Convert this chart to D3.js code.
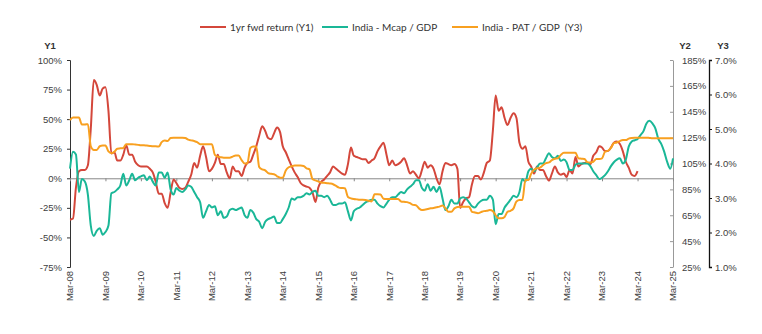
<!DOCTYPE html>
<html>
<head>
<meta charset="utf-8">
<script src="https://cdn.jsdelivr.net/npm/d3@7"></script>
<style>
  body { margin: 0; background: #fff; }
  svg { display: block; font-family: "Liberation Sans", Arial, sans-serif; }
</style>
</head>
<body>
<svg id="chart" width="762" height="334"></svg>
<script>
// monthly series, first value = Mar-2008
const startMonth = new Date(2008, 2, 1)

// 1yr fwd return (Y1), %
const fwdReturn = [
  -35, -34, -8, 6, 7, 7, 11, 42, 83, 79, 70, 76, 77, 57, 21, 22, 15, 15, 20, 28,
  20, 20, 14, 11, 10, 10, 10, 8, 5, -3, -13, -13, -21, -25, -12, -1, -4, -8, -9, -8,
  -3, 3, 13, 9, 19, 27, 18, 6, 8, 13, 20, 12, 12, 5, 0, 10, 6, 6, 2, 9,
  13, 14, 20, 27, 36, 44, 40, 34, 33, 38, 43, 39, 27, 22, 16, 10, 5, 1, -4, -6,
  -7, -8, -12, -20, -8, -3, -1, 2, 5, 10, 8, 6, 4, 3, 12, 26, 19, 18, 17, 16,
  16, 13, 15, 17, 23, 27, 30, 20, 11, 15, 11, 12, 14, 17, 11, 4, 6, 3, 0, 7,
  14, 9, 11, 8, 0, -5, 6, 13, 12, 11, 12, 8, -25, -20, -17, -16, -5, 2, 2, -1,
  5, 13, 15, 40, 70, 57, 60, 51, 45, 51, 55, 51, 30, 25, 27, 14, 10, 4, 10, 7,
  7, 2, -2, 4, 10, 5, 3, 4, 1, 7, 4, 18, 10, 12, 13, 13, 12, 19, 22, 27,
  26, 23, 23, 26, 30, 31, 29, 23, 14, 9, 3, 2, 6
]

// India - Mcap / GDP (Y2), %
const mcapGdp = [
  101, 114, 112, 83, 93, 91, 81, 57, 49, 53, 55, 50, 52, 57, 82, 83, 85, 88, 97, 88,
  92, 97, 92, 94, 95, 96, 92, 95, 91, 88, 98, 98, 94, 98, 85, 81, 86, 84, 83, 85,
  88, 87, 83, 79, 75, 63, 68, 73, 71, 72, 65, 68, 63, 64, 69, 70, 69, 70, 71, 65,
  63, 69, 67, 62, 60, 55, 60, 62, 63, 64, 59, 59, 62, 66, 71, 78, 77, 79, 79, 80,
  82, 81, 83, 84, 80, 80, 79, 80, 77, 73, 73, 74, 74, 75, 68, 61, 68, 70, 71, 73,
  75, 76, 77, 77, 74, 72, 71, 74, 77, 79, 79, 81, 83, 82, 85, 87, 89, 92, 92, 86,
  84, 89, 84, 87, 83, 87, 78, 69, 72, 77, 74, 74, 78, 79, 78, 75, 72, 71, 74, 76,
  77, 77, 80, 77, 58, 66, 66, 71, 74, 77, 80, 79, 83, 93, 91, 99, 101, 99, 102, 105,
  105, 109, 113, 110, 109, 111, 107, 108, 106, 100, 100, 104, 105, 105, 105, 105, 103, 99, 96, 93,
  94, 96, 99, 103, 106, 108, 109, 105, 108, 118, 122, 123, 124, 127, 130, 136, 138, 136, 132, 124,
  120, 114, 106, 101, 109
]

// India - PAT / GDP (Y3), %
const patGdp = [
  5.26, 5.33, 5.33, 5.33, 5.13, 5.13, 5.14, 4.5, 4.39, 4.39, 4.5, 4.52, 4.52, 4.35, 4.3, 4.34, 4.43, 4.44, 4.45, 4.56,
  4.56, 4.56, 4.55, 4.54, 4.53, 4.53, 4.52, 4.51, 4.5, 4.5, 4.49, 4.62, 4.67, 4.65, 4.74, 4.75, 4.75, 4.75, 4.75, 4.74,
  4.69, 4.67, 4.65, 4.62, 4.56, 4.56, 4.56, 4.56, 4.56, 4.25, 4.2, 4.18, 4.17, 4.17, 4.17, 4.2, 4.23, 4.23, 4.1, 4.0,
  4.0, 4.45, 4.49, 4.49, 3.9, 3.83, 3.8, 3.72, 3.7, 3.69, 3.63, 3.59, 3.59, 3.8, 3.89, 3.92, 3.94, 3.94, 3.94, 3.93,
  3.86, 3.83, 3.55, 3.51, 3.48, 3.45, 3.44, 3.43, 3.42, 3.4, 3.35, 3.3, 3.29, 3.28, 3.03, 2.99, 2.97, 2.96, 2.95, 2.95,
  2.94, 2.92, 2.9, 3.11, 3.11, 3.1, 2.98, 2.97, 2.97, 2.97, 2.97, 2.97, 2.9, 2.89, 2.88, 2.85, 2.8, 2.79, 2.7, 2.65,
  2.66, 2.68, 2.7, 2.71, 2.73, 2.75, 2.78, 2.7, 2.6, 2.6, 2.7, 2.74, 2.75, 2.75, 2.75, 2.75, 2.6, 2.58, 2.56, 2.59,
  2.62, 2.63, 2.65, 2.62, 2.5, 2.41, 2.41, 2.45, 2.6, 2.63, 2.7, 2.9, 2.94, 2.94, 3.52, 3.52, 3.7, 3.82, 3.86, 3.88,
  3.95, 4.01, 4.03, 4.1, 4.14, 4.15, 4.25, 4.31, 4.31, 4.31, 4.31, 4.31, 4.15, 4.14, 4.13, 4.04, 4.03, 4.05, 4.13, 4.13,
  4.15, 4.34, 4.37, 4.45, 4.59, 4.61, 4.65, 4.68, 4.68, 4.72, 4.74, 4.75, 4.75, 4.75, 4.75, 4.75, 4.74, 4.73, 4.73, 4.73,
  4.73, 4.73, 4.73, 4.73, 4.73
]

const y1Ticks = [-75, -50, -25, 0, 25, 50, 75, 100]
const y2Ticks = [25, 45, 65, 85, 105, 125, 145, 165, 185]
const y3Ticks = [1, 2, 3, 4, 5, 6, 7]

const seriesNames = ['1yr fwd return (Y1)', 'India - Mcap / GDP', 'India - PAT / GDP  (Y3)']
const colors = ['#d4473b', '#1ab797', '#f8a020']

const svg = d3.select('#chart')
const plotLeft = 70, plotRight = 673, plotTop = 60, plotBottom = 267
const y3x = 709

const x = d3.scaleTime()
    .domain([startMonth, new Date(2025, 2, 1)])
    .range([plotLeft, plotRight])
const y1 = d3.scaleLinear().domain([-75, 100]).range([plotBottom, plotTop])
const y2 = d3.scaleLinear().domain([25, 185]).range([plotBottom, plotTop])
const y3 = d3.scaleLinear().domain([1, 7]).range([plotBottom, plotTop])

const toRows = vals => vals.map((v, i) => ({ date: d3.timeMonth.offset(startMonth, i), value: v }))

// left axis (Y1)
const axL = svg.append('g')
    .attr('transform', `translate(${plotLeft},0)`)
    .call(d3.axisLeft(y1).tickValues(y1Ticks).tickSize(3).tickPadding(5).tickFormat(d => d + '%'))
axL.select('.domain').attr('stroke', '#333')
axL.selectAll('.tick line').attr('stroke', '#333')

// Y2 axis, ticks point inward
const axR = svg.append('g')
    .attr('transform', `translate(${plotRight},0)`)
    .call(d3.axisRight(y2).tickValues(y2Ticks).tickSizeInner(-3).tickSizeOuter(0).tickPadding(9).tickFormat(d => d + '%'))
axR.select('.domain').attr('stroke', '#999')
axR.selectAll('.tick line').attr('stroke', '#999')

// Y3 axis
const ax3 = svg.append('g')
    .attr('transform', `translate(${y3x},0)`)
    .call(d3.axisRight(y3).tickValues(y3Ticks).tickSize(3).tickPadding(3).tickFormat(d => d.toFixed(1) + '%'))
ax3.select('.domain').attr('stroke', '#111').attr('stroke-width', 1.3)
ax3.selectAll('.tick line').attr('stroke', '#111')

svg.selectAll('.tick text')
    .attr('font-size', 9.5)
    .attr('fill', '#404040')
    .attr('font-family', '"Liberation Sans", Arial, sans-serif')

// zero line with year ticks
const years = d3.range(2008, 2026).map(y => new Date(y, 2, 1))
const ax0 = svg.append('g')
    .attr('transform', `translate(0,${y1(0)})`)
    .call(d3.axisBottom(x).tickValues(years).tickSize(3).tickSizeOuter(0).tickFormat(''))
ax0.select('.domain').attr('stroke', '#888')
ax0.selectAll('.tick line').attr('stroke', '#888')

// rotated date labels along the bottom
svg.append('g')
    .selectAll('text')
    .data(years)
    .join('text')
    .attr('transform', d => `translate(${x(d)},${plotBottom + 4}) rotate(-90)`)
    .attr('text-anchor', 'end')
    .attr('dy', '0.35em')
    .attr('font-size', 9.5)
    .attr('fill', '#404040')
    .text(d3.timeFormat('%b-%y'))

// axis titles
const titles = [['Y1', 50], ['Y2', 685], ['Y3', 723]]
svg.append('g')
    .selectAll('text')
    .data(titles)
    .join('text')
    .attr('x', d => d[1])
    .attr('y', 49)
    .attr('text-anchor', 'middle')
    .attr('font-size', 9.5)
    .attr('font-weight', 'bold')
    .attr('fill', '#333')
    .text(d => d[0])

// the three series
const lineOf = ys => d3.line()
    .x(d => x(d.date))
    .y(d => ys(d.value))
    .curve(d3.curveMonotoneX)

const series = [
    [toRows(fwdReturn), y1],
    [toRows(mcapGdp), y2],
    [toRows(patGdp), y3]
]

svg.append('g')
    .attr('fill', 'none')
    .attr('stroke-width', 2)
    .attr('stroke-linejoin', 'round')
    .selectAll('path')
    .data(series)
    .join('path')
    .attr('stroke', (d, i) => colors[i])
    .attr('d', d => lineOf(d[1])(d[0]))

// legend
const legendX = [200, 322, 452]
const legend = svg.append('g')
    .selectAll('g')
    .data(seriesNames)
    .join('g')
    .attr('transform', (d, i) => `translate(${legendX[i]},27)`)
legend.append('line')
    .attr('x1', 0).attr('x2', 26)
    .attr('stroke', (d, i) => colors[i])
    .attr('stroke-width', 2)
legend.append('text')
    .attr('x', 30)
    .attr('dy', '0.35em')
    .attr('font-size', 10)
    .attr('font-family', 'Lato, sans-serif')
    .attr('fill', '#333')
    .style('white-space', 'pre')
    .text(d => d)
</script>
</body>
</html>
